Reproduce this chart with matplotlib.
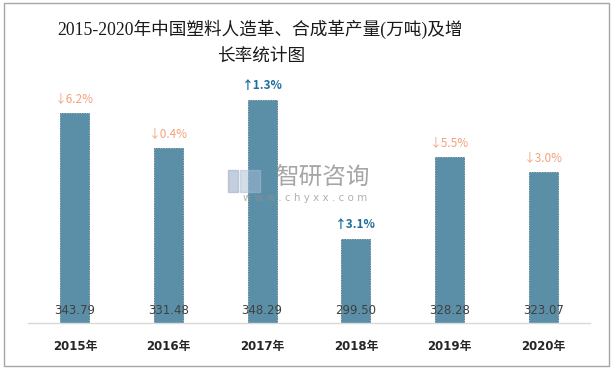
import matplotlib.pyplot as plt
import matplotlib.patches as mpatches

years = ['2015年', '2016年', '2017年', '2018年', '2019年', '2020年']
output = [343.79, 331.48, 348.29, 299.50, 328.28, 323.07]
growth = ['6.2%', '0.4%', '1.3%', '3.1%', '5.5%', '3.0%']
direction = ['down', 'down', 'up', 'up', 'down', 'down']

plt.rcParams['font.family'] = ['DejaVu Sans', 'Noto Sans CJK SC']

fig = plt.figure(figsize=(6.15, 3.71), dpi=100)
W, H = 615, 371
# axes spans x 28..590 px, y 75..323 px
ax = fig.add_axes([28 / W, 1 - 323 / H, (590 - 28) / W, (323 - 75) / H])

x = list(range(len(years)))
ax.bar(x, output, width=0.31, bottom=0, color='#5b8fa8', edgecolor='#4a7890',
       linewidth=0.6, linestyle=(0, (2, 1)), zorder=2)
ax.set_xlim(-0.5, len(years) - 0.5)
ax.set_ylim(270, 357)

cjk = ['Noto Sans CJK SC', 'DejaVu Sans']
for i, v in enumerate(output):
    ax.text(i, 274.5, f'{v:.2f}', ha='center', va='center', fontsize=8.5,
            color='#404040', zorder=3)
    if direction[i] == 'up':
        ax.text(i, v + 2.8, '↑' + growth[i], ha='center', va='bottom',
                fontsize=8.5, color='#1f6e9b', fontweight='bold', family=cjk, zorder=3)
    else:
        ax.text(i, v + 2.8, '↓' + growth[i], ha='center', va='bottom',
                fontsize=8.5, color='#f4a07a', family=cjk, zorder=3)

ax.set_xticks(x)
ax.set_xticklabels(years, fontsize=8.5, fontweight='bold', color='#262626')
ax.tick_params(axis='x', length=0, pad=12)
ax.set_yticks([])
for s in ['top', 'right', 'left']:
    ax.spines[s].set_visible(False)
ax.spines['bottom'].set_color('#d9d9d9')
ax.spines['bottom'].set_linewidth(1)

# title
serif = ['Liberation Serif', 'Noto Sans CJK SC']
fig.text(260 / W, 1 - 29 / H, '2015-2020年中国塑料人造革、合成革产量(万吨)及增',
         ha='center', va='center', fontsize=12.7, family=serif, color='#1a1a1a')
fig.text(261 / W, 1 - 56 / H, '长率统计图', ha='center', va='center', fontsize=12.7,
         family=serif, color='#1a1a1a')

# watermark
fig.patches.append(mpatches.Rectangle((228 / W, 1 - 192 / H), 10 / W, 22 / H,
                                      transform=fig.transFigure, color='#9bb0c8', alpha=0.6))
fig.patches.append(mpatches.Rectangle((240 / W, 1 - 192 / H), 20 / W, 22 / H,
                                      transform=fig.transFigure, color='#a8bcd6', alpha=0.5))
fig.text(322 / W, 1 - 178 / H, '智研咨询', ha='center', va='center', fontsize=17,
         color='#808080', alpha=0.7, family=['Noto Sans CJK SC'])
fig.text(305 / W, 1 - 198 / H, 'w w w . c h y x x . c o m', ha='center', va='center',
         fontsize=7.5, color='#909090', alpha=0.7)

# outer border
fig.patches.append(mpatches.Rectangle((4 / W, 5 / H), 605 / W, 363 / H,
                                      transform=fig.transFigure, fill=False,
                                      edgecolor='#a6a6a6', linewidth=1))

fig.savefig('out.png', dpi=100)
